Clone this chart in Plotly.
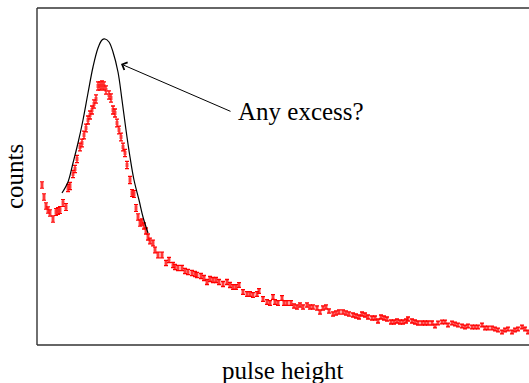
import plotly.graph_objects as go

# pulse-height channel (arbitrary units) and counts
channel = [5, 7, 9, 11, 13, 16, 19, 21, 23, 26, 29, 31, 33, 36, 38, 40, 43, 45, 47, 49,
           51, 53, 55, 57, 59, 61, 63, 65, 67, 69, 72, 74, 76, 78, 80, 82, 84, 86, 88, 90,
           93, 95, 97, 99, 101, 103,
           105, 107, 109, 111, 113, 116, 118, 121, 125, 129, 132, 136, 138, 141, 145, 148,
           151, 155, 158, 160, 164, 167, 170, 173, 176, 179, 182, 186, 190, 193, 196, 199,
           202, 206, 210, 213, 216, 220, 222,
           226, 230, 233, 236, 238, 241, 245, 247, 250, 254, 257, 260, 263, 266, 270, 273,
           276, 280, 283, 286, 289, 292, 296, 299, 302, 306, 309, 312, 316, 319, 322, 325,
           328, 331, 335, 338, 341, 344, 347, 350, 354, 357,
           360, 363, 366, 369, 371, 375, 378, 381, 385, 388, 391, 395, 398, 401, 405, 408,
           411, 415, 418, 421, 425, 428, 431, 435, 438, 441, 445, 448, 451, 455, 458, 461,
           465, 468, 471, 475, 478, 481, 485, 488, 491]
counts = [160, 148, 139, 135, 132, 126, 133, 134, 135, 142, 138, 157, 159, 171, 176, 186, 198, 202, 210, 217,
          225, 230, 235, 241, 246, 259, 259, 260, 259, 255, 250, 247, 235, 232, 222, 215, 208, 198, 192, 180,
          165, 152, 151, 137, 128, 122,
          123, 119, 114, 108, 104, 102, 95, 90, 90, 82, 85, 80, 78, 77, 77, 74,
          73, 72, 71, 70, 69, 67, 63, 66, 65, 65, 63, 61, 63, 60, 58, 58,
          60, 53, 51, 51, 50, 51, 54,
          46, 43, 42, 48, 43, 42, 47, 42, 42, 42, 39, 38, 40, 38, 40, 38,
          38, 37, 33, 37, 38, 34, 31, 32, 33, 33, 32, 31, 30, 29, 28, 31,
          30, 28, 27, 27, 24, 28, 27, 26, 23, 23,
          24, 23, 23, 24, 26, 24, 23, 22, 22, 22, 22, 22, 19, 22, 23, 23,
          20, 22, 21, 20, 19, 18, 19, 18, 18, 18, 20, 17, 17, 17, 16, 15,
          13, 15, 16, 13, 15, 16, 18, 16, 13]
errors = [3.2, 3.2, 3.2, 3.2, 3.2, 3.2, 3.3, 3.3, 3.3, 3.3, 3.3, 3.5, 3.5, 3.6, 3.6, 3.7, 3.8, 3.8, 3.9, 3.9,
          4.0, 4.0, 4.0, 4.1, 4.1, 4.2, 4.2, 4.2, 4.2, 4.2, 4.1, 4.1, 4.0, 4.0, 3.9, 3.9, 3.8, 3.8, 3.7, 3.6,
          3.5, 3.4, 3.4, 3.3, 3.2, 3.1,
          3.1, 3.0, 3.0, 3.0, 2.9, 2.9, 2.8, 2.8, 2.8, 2.7, 2.7, 2.7, 2.7, 2.6, 2.6, 2.6,
          2.6, 2.6, 2.6, 2.6, 2.5, 2.5, 2.5, 2.5, 2.5, 2.5, 2.5, 2.5, 2.5, 2.5, 2.4, 2.4,
          2.4, 2.4, 2.4, 2.4, 2.4, 2.4, 2.4,
          2.3, 2.3, 2.3, 2.3, 2.3, 2.3, 2.3, 2.3, 2.3, 2.3, 2.2, 2.2, 2.2, 2.2, 2.2, 2.2,
          2.2, 2.2, 2.1, 2.1, 2.1, 2.1, 2.1, 2.1, 2.1, 2.1, 2.1, 2.1, 2.0, 2.0, 2.0, 2.0,
          2.0, 2.0, 2.0, 2.0, 2.0, 2.0, 2.0, 2.0, 2.0, 2.0,
          2.0, 2.0, 2.0, 2.0, 2.0, 2.0, 2.0, 2.0, 2.0, 2.0, 2.0, 2.0, 1.9, 1.9, 1.9, 1.9,
          1.9, 1.9, 1.9, 1.9, 1.9, 1.9, 1.9, 1.9, 1.9, 1.9, 1.9, 1.9, 1.9, 1.9, 1.9, 1.9,
          1.8, 1.8, 1.8, 1.8, 1.8, 1.8, 1.8, 1.8, 1.8]

# expected peak curve
curve_x = [25, 31, 36, 41, 46, 51, 56, 61, 65, 68, 72, 76, 81, 85, 89, 93, 97, 102, 106, 111]
curve_y = [152, 163, 182, 202, 225, 252, 278, 297, 305, 306, 303, 293, 273, 245, 215, 188, 165, 145, 128, 112]

FONT = "Palatino Linotype, URW Palladio L, Liberation Serif, serif"
FRAME = "#333333"

fig = go.Figure()
fig.add_trace(go.Scatter(
    x=channel, y=counts, mode="markers",
    marker=dict(symbol="square", size=4, color="rgba(255,0,0,0.35)", line=dict(width=0)),
    error_y=dict(type="data", array=errors, color="red", thickness=1.3, width=2),
    showlegend=False, hoverinfo="skip"))
fig.add_trace(go.Scatter(
    x=curve_x, y=curve_y, mode="lines",
    line=dict(color="black", width=1.2, shape="spline", smoothing=1.0),
    showlegend=False, hoverinfo="skip"))

# axis frame (left, top, bottom)
for x0, y0, x1, y1 in [(0, 0, 0, 1), (0, 1, 1, 1), (0, 0, 1, 0)]:
    fig.add_shape(type="line", xref="paper", yref="paper", x0=x0, y0=y0, x1=x1, y1=y1,
                  line=dict(color=FRAME, width=1.4))

# arrow
fig.add_annotation(x=84, y=281, ax=195, ay=233, xref="x", yref="y", axref="x", ayref="y",
                   text="", showarrow=True, arrowhead=4, arrowsize=1.6, arrowwidth=1,
                   arrowcolor="black", standoff=0, startstandoff=0)
fig.add_annotation(x=199, y=234, xref="x", yref="y", text="Any excess?", showarrow=False,
                   xanchor="left", yanchor="middle", font=dict(family=FONT, size=25, color="black"))
fig.add_annotation(x=0.5, y=-0.0744, xref="paper", yref="paper", text="pulse height",
                   showarrow=False, xanchor="center", yanchor="middle",
                   font=dict(family=FONT, size=25, color="black"))
fig.add_annotation(x=-0.0457, y=0.5, xref="paper", yref="paper", text="counts", textangle=-90,
                   showarrow=False, xanchor="center", yanchor="middle",
                   font=dict(family=FONT, size=25, color="black"))

fig.update_xaxes(range=[0, 492], showgrid=False, zeroline=False, showticklabels=False,
                 ticks="", showline=False)
fig.update_yaxes(range=[0, 337], showgrid=False, zeroline=False, showticklabels=False,
                 ticks="", showline=False)
fig.update_layout(width=529, height=383, margin=dict(l=37, r=0, t=8, b=38),
                  paper_bgcolor="white", plot_bgcolor="white")
fig.write_html("out.html", config={"displayModeBar": False, "staticPlot": True},
               post_script="document.body.style.margin='0';"
                           "document.documentElement.style.overflow='hidden';")
